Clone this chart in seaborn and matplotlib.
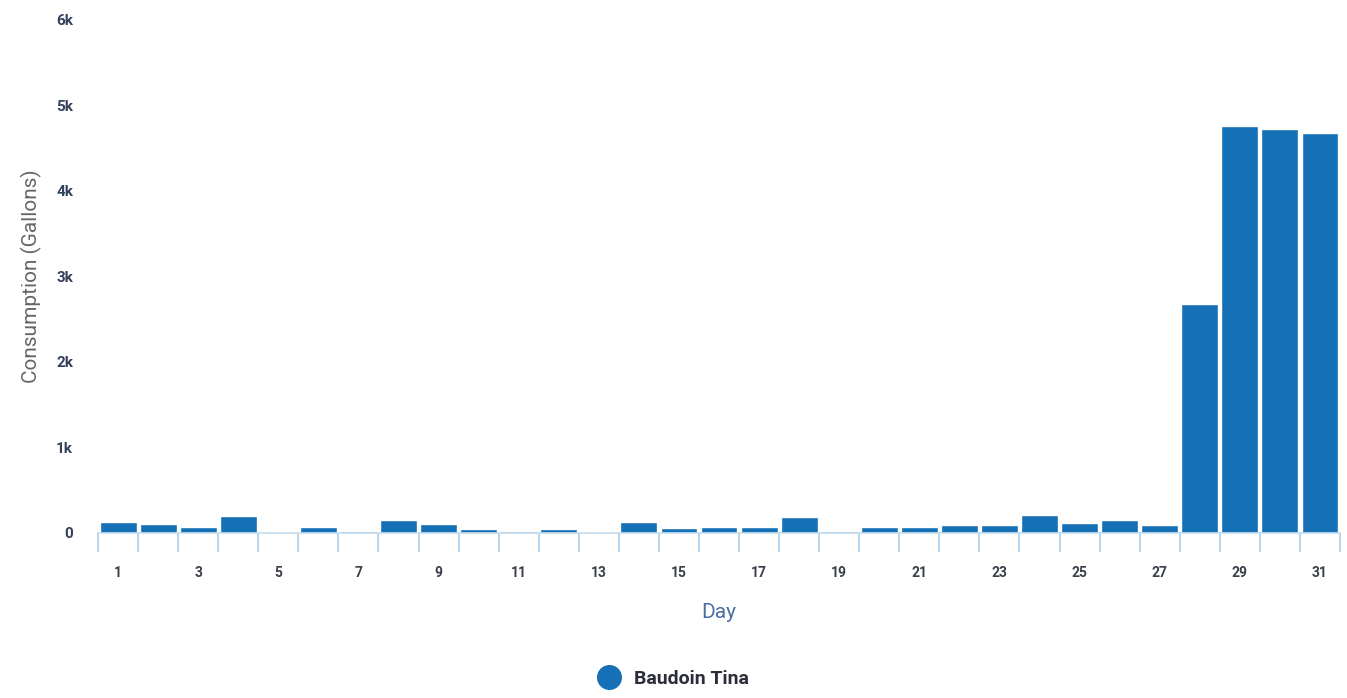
import matplotlib
matplotlib.use("Agg")
import matplotlib.pyplot as plt
import seaborn as sns
import pandas as pd
from matplotlib.lines import Line2D
from matplotlib.ticker import FixedLocator

days = list(range(1, 32))
consumption = [130, 100, 75, 200, 0, 70, 20, 150, 100, 50, 20, 50, 0, 130, 55,
               70, 70, 190, 20, 70, 70, 95, 95, 210, 115, 155, 95, 2680, 4760, 4720, 4680]
series_name = "Baudoin Tina"
y_ticks = [0, 1000, 2000, 3000, 4000, 5000, 6000]
y_tick_labels = ["0", "1k", "2k", "3k", "4k", "5k", "6k"]

bar_color = "#1570b5"
sns.set_theme(style="white")
plt.rcParams["font.family"] = ["Roboto", "DejaVu Sans"]

df = pd.DataFrame({"Day": days, "Consumption": consumption})

fig = plt.figure(figsize=(13.47, 6.98), dpi=100)
ax = fig.add_axes([0.0728, 0.2364, 0.922, 0.735])
sns.barplot(data=df, x="Day", y="Consumption", color=bar_color, saturation=1,
            width=0.92, ax=ax)

ax.set_ylim(0, 6000)
ax.set_xlim(-0.5, len(days) - 0.5)
ax.set_yticks(y_ticks)
ax.set_yticklabels(y_tick_labels, fontsize=11, fontweight="bold", color="#33415c")
ax.tick_params(axis="y", left=False, length=0, pad=18)

# x labels on odd days
major_pos = [i for i, d in enumerate(days) if d % 2 == 1]
ax.xaxis.set_major_locator(FixedLocator(major_pos))
ax.set_xticklabels([str(days[i]) for i in major_pos], fontsize=10,
                   fontweight="bold", color="#3a3f4a")
ax.tick_params(axis="x", which="major", bottom=False, length=0, pad=24)
ax.xaxis.set_minor_locator(FixedLocator([i - 0.5 for i in range(len(days) + 1)]))
ax.tick_params(axis="x", which="minor", bottom=True, length=14, width=1.2,
               color="#a9cdea", direction="out")

for s in ["top", "right", "left"]:
    ax.spines[s].set_visible(False)
ax.spines["bottom"].set_color("#c5ddf0")
ax.spines["bottom"].set_linewidth(1.2)
ax.grid(False)

ax.set_xlabel("Day", fontsize=15, color="#4a6fa5", labelpad=16)
ax.set_ylabel("Consumption (Gallons)", fontsize=15, color="#666666")
ax.yaxis.set_label_coords(-0.045, 0.5)

handle = Line2D([0], [0], marker="o", linestyle="", markersize=17,
                markerfacecolor=bar_color, markeredgecolor=bar_color)
leg = fig.legend([handle], [series_name], loc="center", bbox_to_anchor=(0.497, 0.027),
                 frameon=False, handletextpad=0.3,
                 prop={"size": 14, "weight": "bold"})
for t in leg.get_texts():
    t.set_color("#2b2d3a")

fig.savefig("out.png", dpi=100)
